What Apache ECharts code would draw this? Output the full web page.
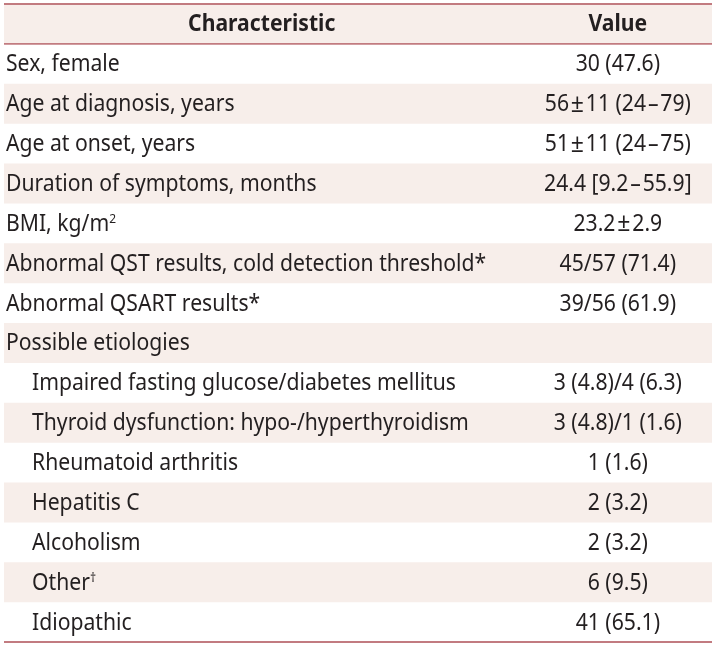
<!DOCTYPE html>
<html>
<head>
<meta charset="utf-8">
<script src="https://cdn.jsdelivr.net/npm/echarts@6/dist/echarts.min.js"></script>
<style>html,body{margin:0;padding:0;background:#fff;}#c{width:717px;height:647px;}</style>
</head>
<body>
<div id="c"></div>
<script>
const headers = ['Characteristic', 'Value'];
const rowLabels = [
  'Sex, female',
  'Age at diagnosis, years',
  'Age at onset, years',
  'Duration of symptoms, months',
  'BMI, kg/m{sup|2}',
  'Abnormal QST results, cold detection threshold*',
  'Abnormal QSART results*',
  'Possible etiologies',
  'Impaired fasting glucose/diabetes mellitus',
  'Thyroid dysfunction: hypo-/hyperthyroidism',
  'Rheumatoid arthritis',
  'Hepatitis C',
  'Alcoholism',
  'Other{sup|†}',
  'Idiopathic'
];
const rowValues = [
  '30 (47.6)',
  '56±11 (24–79)',
  '51±11 (24–75)',
  '24.4 [9.2–55.9]',
  '23.2±2.9',
  '45/57 (71.4)',
  '39/56 (61.9)',
  '',
  '3 (4.8)/4 (6.3)',
  '3 (4.8)/1 (1.6)',
  '1 (1.6)',
  '2 (3.2)',
  '2 (3.2)',
  '6 (9.5)',
  '41 (65.1)'
];
const rowLevel = [0,0,0,0,0,0,0,0,1,1,1,1,1,1,1];

const FONT = 'Noto Sans';
const FS = 23;
const SX = 0.92;
const TEXT = '#231f20';
const STRIPE = '#f7eeea';
const RULE = '#c27b80';

const cats = [headers[0]].concat(rowLabels.map(s => s.replace(/\{sup\|(.*?)\}/g, '$1')));
const data = cats.map((_, i) => [0, i]);

function richify(s) {
  return s.replace(/±/g, '{pm|±}').replace(/–/g, '{dash|–}');
}

const chart = echarts.init(document.getElementById('c'), null, {renderer: 'canvas'});
chart.setOption({
  animation: false,
  grid: {left: 4, right: 5, top: 4, bottom: 5},
  xAxis: {type: 'value', min: 0, max: 1, show: false},
  yAxis: {type: 'category', data: cats, inverse: true, show: false},
  series: [{
    type: 'custom',
    data: data,
    renderItem: function (params, api) {
      const i = api.value(1);
      const cs = params.coordSys;
      const c = api.coord([0, i]);
      const bh = api.size([0, 1])[1];
      const top = c[1] - bh / 2;
      const cy = c[1] + 1;
      const children = [];
      if (i % 2 === 0) {
        children.push({type: 'rect', shape: {x: cs.x, y: top, width: cs.width, height: bh}, style: {fill: STRIPE}});
      }
      const rich = {
        sup: {fontSize: 13, fontFamily: FONT, fill: TEXT, verticalAlign: 'top', lineHeight: 14},
        pm: {fontSize: FS + 2, fontFamily: FONT, fill: TEXT, padding: [0, 2, 0, 2]},
        dash: {fontSize: FS, fontFamily: FONT, fill: TEXT, padding: [0, 2, 0, 2]}
      };
      if (i === 0) {
        const lc = api.coord([0.364, i]);
        const vc = api.coord([0.867, i]);
        children.push({type: 'text', x: lc[0], y: cy, scaleX: SX, style: {text: headers[0], fontFamily: FONT, fontSize: FS, fontWeight: 'bold', fill: TEXT, align: 'center', verticalAlign: 'middle'}});
        children.push({type: 'text', x: vc[0], y: cy, scaleX: SX, style: {text: headers[1], fontFamily: FONT, fontSize: FS, fontWeight: 'bold', fill: TEXT, align: 'center', verticalAlign: 'middle'}});
        children.push({type: 'line', shape: {x1: cs.x, y1: top, x2: cs.x + cs.width, y2: top}, style: {stroke: RULE, lineWidth: 1.8}});
        children.push({type: 'line', shape: {x1: cs.x, y1: top + bh, x2: cs.x + cs.width, y2: top + bh}, style: {stroke: RULE, lineWidth: 1.8}});
      } else {
        const r = i - 1;
        const vc = api.coord([0.867, i]);
        children.push({type: 'text', x: cs.x + 2 + rowLevel[r] * 26, y: cy, scaleX: SX, style: {text: rowLabels[r], rich: rich, fontFamily: FONT, fontSize: FS, fill: TEXT, align: 'left', verticalAlign: 'middle'}});
        if (rowValues[r]) {
          children.push({type: 'text', x: vc[0], y: cy, scaleX: SX, style: {text: richify(rowValues[r]), rich: rich, fontFamily: FONT, fontSize: FS, fill: TEXT, align: 'center', verticalAlign: 'middle'}});
        }
        if (i === cats.length - 1) {
          children.push({type: 'line', shape: {x1: cs.x, y1: top + bh, x2: cs.x + cs.width, y2: top + bh}, style: {stroke: RULE, lineWidth: 1.8}});
        }
      }
      return {type: 'group', children: children};
    }
  }]
});
</script>
</body>
</html>
